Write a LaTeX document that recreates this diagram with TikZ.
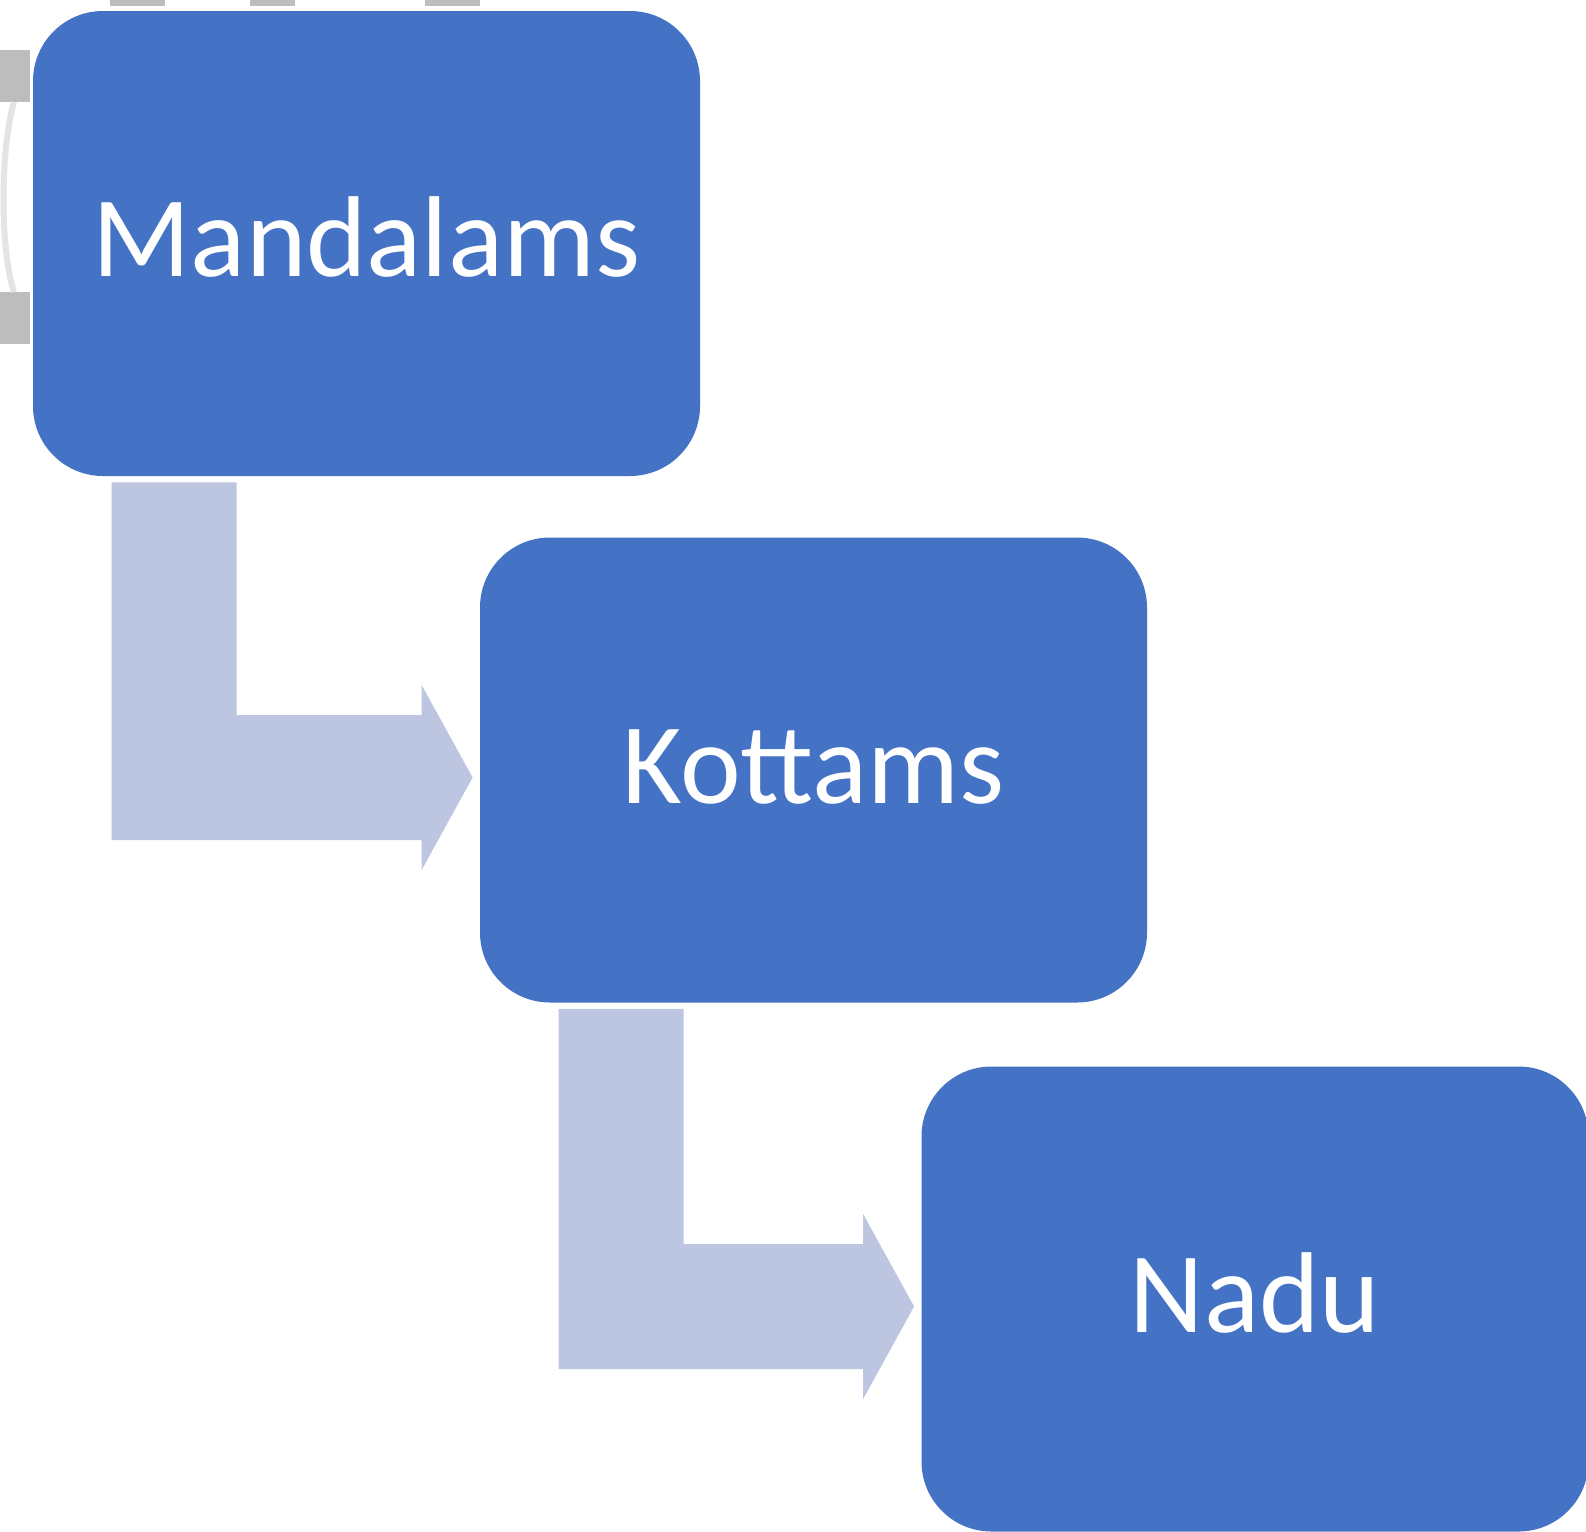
\documentclass[tikz,border=0pt]{standalone}
\usepackage{fontspec}
\setmainfont{Carlito}
\usetikzlibrary{calc}
\definecolor{boxblue}{HTML}{4472C4}
\definecolor{arrowblue}{HTML}{BDC6E1}
\definecolor{scrapgrey}{HTML}{BDBDBD}
\tikzset{
    level/.style={
    fill=boxblue,
    rounded corners=35pt,
    minimum width=333.5pt,
    minimum height=232.5pt,
    inner sep=0pt,
    text=white,
    font=\fontsize{57.5}{69}\selectfont,
    text height=33pt,
    text depth=0pt
    },
    bendarrow/.style={fill=arrowblue}
}
\begin{document}
\begin{tikzpicture}[x=0.5pt,y=-0.5pt]
\fill[white] (0,0) rectangle (1586,1532);
\useasboundingbox (0,0) rectangle (1586,1532);

% bits of the slide that were cut off
\fill[scrapgrey] (0,50) rectangle (30,102);
\fill[scrapgrey] (0,292) rectangle (30,344);
\draw[scrapgrey!40,line width=3] (14,102) .. controls (0,150) and (0,250) .. (14,292);
\fill[scrapgrey] (110,0) rectangle (165,6);
\fill[scrapgrey] (250,0) rectangle (295,6);
\fill[scrapgrey] (425,0) rectangle (480,6);

\node[level] (mand) at (366.5,243.5) {Mandalams};
\node[level] (kot) at (813.5,770) {Kottams};
\node[level] (nadu) at (1255,1299) {Nadu};

\coordinate (s1) at ($(mand.south west)+(79,6)$);
\coordinate (t1) at ($(kot.west)+(-7,7.5)$);
\fill[bendarrow] (s1) -- ++(125,0) |- ($(t1)+(-51,-62.5)$) -- ++(0,-30) -- (t1)
    -- ($(t1)+(-51,92.5)$) -- ++(0,-30) -| (s1) -- cycle;

\coordinate (s2) at ($(kot.south west)+(79,6)$);
\coordinate (t2) at ($(nadu.west)+(-7,7.5)$);
\fill[bendarrow] (s2) -- ++(125,0) |- ($(t2)+(-51,-62.5)$) -- ++(0,-30) -- (t2)
    -- ($(t2)+(-51,92.5)$) -- ++(0,-30) -| (s2) -- cycle;
\end{tikzpicture}
\end{document}
